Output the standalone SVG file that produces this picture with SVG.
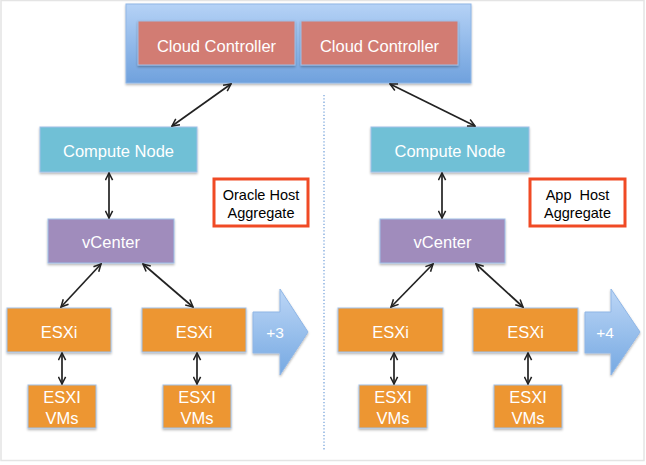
<svg xmlns="http://www.w3.org/2000/svg" width="646" height="465" viewBox="0 0 646 465">
<style>
.lbl{font-family:"Liberation Sans",Arial,sans-serif;fill:#fff;text-anchor:middle}
.blk{font-family:"Liberation Sans",Arial,sans-serif;fill:#000;text-anchor:middle;font-size:14.5px}
.cc{fill:#d27b73;stroke:#9fc0e8;stroke-width:1}
.cn{fill:#70c0d6;stroke:#9fc0e8;stroke-width:1}
.vc{fill:#a08cbc;stroke:#9fc0e8;stroke-width:1}
.es{fill:#ed9631;stroke:#9fc0e8;stroke-width:1}
.agg{fill:#fff;stroke:#f04a25;stroke-width:3}
.con{stroke:#222;stroke-width:1.7;fill:none;marker-start:url(#ah);marker-end:url(#ah)}
</style>
<defs>
<linearGradient id="gb" x1="0" y1="0" x2="0" y2="1">
<stop offset="0" stop-color="#b5d2f6"/>
<stop offset="1" stop-color="#6fa1dd"/>
</linearGradient>
<linearGradient id="ga" x1="0" y1="0" x2="0" y2="1">
<stop offset="0" stop-color="#bcd6f6"/>
<stop offset="1" stop-color="#76a9e2"/>
</linearGradient>
<filter id="sh" x="-10%" y="-10%" width="130%" height="140%">
<feDropShadow dx="0" dy="1.5" stdDeviation="1" flood-color="#000" flood-opacity="0.3"/>
</filter>
<marker id="ah" viewBox="0 0 10 10" refX="9" refY="5" markerWidth="9" markerHeight="9" markerUnits="userSpaceOnUse" orient="auto-start-reverse">
<path d="M1,1 L9,5 L1,9" fill="none" stroke="#222" stroke-width="1.7"/>
</marker>
</defs>
<rect x="1" y="0.5" width="643" height="460" fill="#fff" stroke="#e4e4e4" stroke-width="1.5"/>
<line x1="324" y1="95" x2="324" y2="450" stroke="#7aa6dc" stroke-width="1.3" stroke-dasharray="1.3 2"/>

<g id="cloud">
<rect x="126" y="4" width="345" height="79" fill="url(#gb)" stroke="#8fb6e6" filter="url(#sh)"/>
</g>
<g id="cc1"><rect class="cc" x="138" y="21" width="157" height="44" filter="url(#sh)"/><text class="lbl" x="216.5" y="52" font-size="16.5">Cloud Controller</text></g>
<g id="cc2"><rect class="cc" x="301" y="21" width="157" height="44" filter="url(#sh)"/><text class="lbl" x="379.5" y="52" font-size="16.5">Cloud Controller</text></g>

<g id="cn1"><rect class="cn" x="40" y="127" width="157" height="45" filter="url(#sh)"/><text class="lbl" x="118.5" y="157" font-size="16.5">Compute Node</text></g>
<g id="cn2"><rect class="cn" x="371" y="127" width="158" height="45" filter="url(#sh)"/><text class="lbl" x="450" y="157" font-size="16.5">Compute Node</text></g>

<g id="agg1"><rect class="agg" x="214" y="179" width="94" height="47"/><text class="blk" x="261" y="200">Oracle Host</text><text class="blk" x="261" y="218">Aggregate</text></g>
<g id="agg2"><rect class="agg" x="530" y="179" width="95" height="47"/><text class="blk" x="577.5" y="200" xml:space="preserve">App  Host</text><text class="blk" x="577.5" y="218">Aggregate</text></g>

<g id="vc1"><rect class="vc" x="48" y="219" width="126" height="44" filter="url(#sh)"/><text class="lbl" x="111" y="248" font-size="16.5">vCenter</text></g>
<g id="vc2"><rect class="vc" x="380" y="219" width="125" height="44" filter="url(#sh)"/><text class="lbl" x="442.5" y="248" font-size="16.5">vCenter</text></g>

<g id="esx1"><rect class="es" x="7" y="308" width="104" height="44" filter="url(#sh)"/><text class="lbl" x="59" y="338" font-size="16.5">ESXi</text></g>
<g id="esx2"><rect class="es" x="142" y="308" width="104" height="44" filter="url(#sh)"/><text class="lbl" x="194" y="338" font-size="16.5">ESXi</text></g>
<g id="esx3"><rect class="es" x="338" y="308" width="105" height="44" filter="url(#sh)"/><text class="lbl" x="390.5" y="338" font-size="16.5">ESXi</text></g>
<g id="esx4"><rect class="es" x="473" y="308" width="105" height="44" filter="url(#sh)"/><text class="lbl" x="525.5" y="338" font-size="16.5">ESXi</text></g>

<g id="vm1"><rect class="es" x="28" y="385" width="68" height="43" filter="url(#sh)"/><text class="lbl" x="62" y="403" font-size="16.5">ESXI</text><text class="lbl" x="62" y="424" font-size="16.5">VMs</text></g>
<g id="vm2"><rect class="es" x="163" y="385" width="68" height="43" filter="url(#sh)"/><text class="lbl" x="197" y="403" font-size="16.5">ESXI</text><text class="lbl" x="197" y="424" font-size="16.5">VMs</text></g>
<g id="vm3"><rect class="es" x="359" y="385" width="68" height="43" filter="url(#sh)"/><text class="lbl" x="393" y="403" font-size="16.5">ESXI</text><text class="lbl" x="393" y="424" font-size="16.5">VMs</text></g>
<g id="vm4"><rect class="es" x="494" y="385" width="68" height="43" filter="url(#sh)"/><text class="lbl" x="528" y="403" font-size="16.5">ESXI</text><text class="lbl" x="528" y="424" font-size="16.5">VMs</text></g>

<g id="more1"><path d="M253,312 H280 V289 L308,332 L280,375 V353 H253 Z" fill="url(#ga)" stroke="#8fb6e6" filter="url(#sh)"/><text class="lbl" x="275" y="338" font-size="15.5">+3</text></g>
<g id="more2"><path d="M585,312 H611 V289 L640,332 L611,375 V353 H585 Z" fill="url(#ga)" stroke="#8fb6e6" filter="url(#sh)"/><text class="lbl" x="605" y="338" font-size="15.5">+4</text></g>

<g id="connectors">
<line class="con" x1="231" y1="84" x2="172" y2="126"/>
<line class="con" x1="390" y1="84" x2="475" y2="126"/>
<line class="con" x1="109" y1="173" x2="109" y2="218"/>
<line class="con" x1="442" y1="173" x2="442" y2="218"/>
<line class="con" x1="101" y1="264" x2="61" y2="307"/>
<line class="con" x1="143" y1="264" x2="193" y2="307"/>
<line class="con" x1="433" y1="264" x2="391" y2="307"/>
<line class="con" x1="476" y1="264" x2="523" y2="307"/>
<line class="con" x1="62" y1="353" x2="62" y2="384"/>
<line class="con" x1="197" y1="353" x2="197" y2="384"/>
<line class="con" x1="394" y1="353" x2="394" y2="384"/>
<line class="con" x1="528" y1="353" x2="528" y2="384"/>
</g>
</svg>
